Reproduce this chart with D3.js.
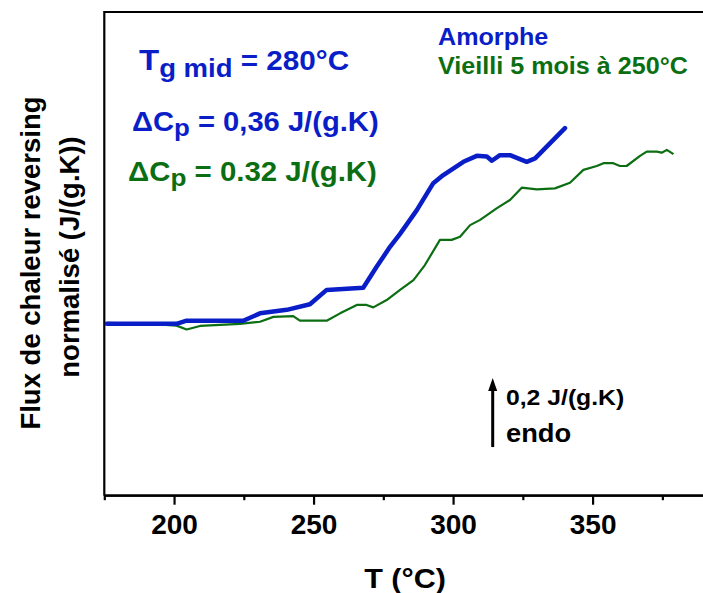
<!DOCTYPE html>
<html><head><meta charset="utf-8">
<script src="https://cdn.jsdelivr.net/npm/d3@7"></script>
<style>
html,body{margin:0;padding:0;background:#fff;}
svg text{font-family:"Liberation Sans",Arial,sans-serif;font-weight:bold;}
</style></head>
<body><svg id="c" width="703" height="593"></svg>
<script>
// Temperature (°C) for each curve
const amorpheT = [175.9,185.4,200.9,204.5,224.8,230.8,240.4,248.7,254.7,267.8,272.6,277.4,281.0,287.0,292.9,296.5,303.7,308.5,312.1,313.9,316.8,320.4,326.4,329.4,340.1];
// Normalised reversing heat flow, J/(g.K), relative to baseline
const amorpheCp = [-0.009,-0.009,-0.009,0,0,0.021,0.031,0.047,0.088,0.094,0.154,0.211,0.248,0.316,0.393,0.416,0.454,0.471,0.469,0.457,0.473,0.473,0.454,0.464,0.550];
const vieilliT = [175.9,191.4,200.9,204.5,209.3,223.6,230.8,235.6,242.7,245.1,254.7,259.5,265.5,269.0,271.4,276.2,281.0,285.8,289.9,295.3,299.5,302.5,306.1,309.7,315.6,320.4,324.6,330.0,336.5,341.9,346.7,351.5,353.9,357.4,359.8,362.2,367.0,369.4,373.0,374.8,376.6,379.0];
const vieilliCp = [-0.006,-0.009,-0.014,-0.025,-0.015,-0.009,-0.003,0.011,0.013,0,0,0.021,0.045,0.045,0.038,0.059,0.088,0.116,0.159,0.231,0.231,0.240,0.273,0.288,0.321,0.345,0.380,0.375,0.378,0.394,0.431,0.442,0.450,0.450,0.442,0.442,0.471,0.483,0.483,0.480,0.488,0.476];
const majorTicks = [200,250,300,350];
const minorTicks = [175,225,275,325,375];
const xDomain = [175,390];
const yDomain = [-0.5,0.882];
const scaleBar = {t:314.2, from:-0.361, to:-0.164};

const blue = "#0a1ec8", green = "#0c6e12";
const svg = d3.select("#c");
const L=104.3, R=704.2, T=12, B=495.7;
const x = d3.scaleLinear().domain(xDomain).range([L,R]);
const y = d3.scaleLinear().domain(yDomain).range([B,T]);

function stretch(sel, x0, s){ return sel.attr("transform",`translate(${x0},0) scale(${s},1) translate(${-x0},0)`); }

// frame: top and left
svg.append("line").attr("x1",L).attr("x2",R+5).attr("y1",T).attr("y2",T).attr("stroke","#000").attr("stroke-width",2.2);
svg.append("line").attr("x1",L).attr("x2",L).attr("y1",T-1).attr("y2",B).attr("stroke","#000").attr("stroke-width",2.2);

// x axis
const gx = svg.append("g").attr("transform",`translate(0,${B})`);
gx.call(d3.axisBottom(x).tickValues(majorTicks).tickSize(9).tickFormat(d3.format("d")));
gx.append("g").call(d3.axisBottom(x).tickValues(minorTicks).tickSize(4.5).tickFormat(""));
gx.selectAll(".domain").attr("stroke-width",2.2).attr("d",`M${L},0H${R+5}`);
gx.selectAll(".tick line").attr("stroke-width",2.2);
gx.selectAll(".tick text").attr("font-size",28).attr("fill","#000").attr("dy",0).attr("y",38)
  .attr("font-family","'Liberation Sans',Arial,sans-serif").attr("font-weight","bold");

const line = d3.line().x(d=>x(d[0])).y(d=>y(d[1])).curve(d3.curveLinear);
svg.append("path").datum(vieilliT.map((t,i)=>[t,vieilliCp[i]])).attr("d",line)
  .attr("fill","none").attr("stroke",green).attr("stroke-width",2.2).attr("stroke-linejoin","round");
svg.append("path").datum(amorpheT.map((t,i)=>[t,amorpheCp[i]])).attr("d",line)
  .attr("fill","none").attr("stroke",blue).attr("stroke-width",4.5).attr("stroke-linejoin","round").attr("stroke-linecap","round");

// axis titles
stretch(svg.append("text").attr("x",405).attr("y",588).attr("text-anchor","middle").attr("font-size",28).text("T (°C)"),405,1.09);
svg.append("text").attr("transform","translate(40,263) rotate(-90)").attr("text-anchor","middle").attr("font-size",27.5).text("Flux de chaleur reversing");
svg.append("text").attr("transform","translate(79,257) rotate(-90)").attr("text-anchor","middle").attr("font-size",27.5).text("normalisé (J/(g.K))");

// annotations
const t1 = svg.append("text").attr("x",139).attr("y",70).attr("fill",blue);
t1.append("tspan").attr("font-size",30).text("T");
t1.append("tspan").attr("font-size",25).attr("dy",7).text("g mid");
t1.append("tspan").attr("font-size",27).attr("dy",-7).text(" = 280°C");
stretch(t1,139,1.1);

const t2 = svg.append("text").attr("x",132).attr("y",131).attr("fill",blue).attr("font-size",27);
t2.append("tspan").text("ΔC");
t2.append("tspan").attr("font-size",24).attr("dy",5).text("p");
t2.append("tspan").attr("dy",-5).text(" = 0,36 J/(g.K)");
stretch(t2,132,1.08);

const t3 = svg.append("text").attr("x",128).attr("y",181).attr("fill",green).attr("font-size",27);
t3.append("tspan").text("ΔC");
t3.append("tspan").attr("font-size",24).attr("dy",5).text("p");
t3.append("tspan").attr("dy",-5).text(" = 0.32 J/(g.K)");
stretch(t3,128,1.09);

stretch(svg.append("text").attr("x",438).attr("y",45).attr("fill",blue).attr("font-size",23.5).text("Amorphe"),438,1.07);
stretch(svg.append("text").attr("x",438).attr("y",74).attr("fill",green).attr("font-size",23.5).text("Vieilli 5 mois à 250°C"),438,1.07);

// scale arrow
const ax = x(scaleBar.t), ay0 = y(scaleBar.from), ay1 = y(scaleBar.to);
svg.append("line").attr("x1",ax).attr("x2",ax).attr("y1",ay0).attr("y2",ay1+10).attr("stroke","#000").attr("stroke-width",3);
svg.append("path").attr("d",`M${ax},${ay1}L${ax-4.5},${ay1+13}L${ax+4.5},${ay1+13}Z`).attr("fill","#000");
stretch(svg.append("text").attr("x",506).attr("y",405).attr("font-size",22.5).text("0,2 J/(g.K)"),506,1.1);
stretch(svg.append("text").attr("x",506).attr("y",442).attr("font-size",26.5).text("endo"),506,1.03);
</script></body></html>
